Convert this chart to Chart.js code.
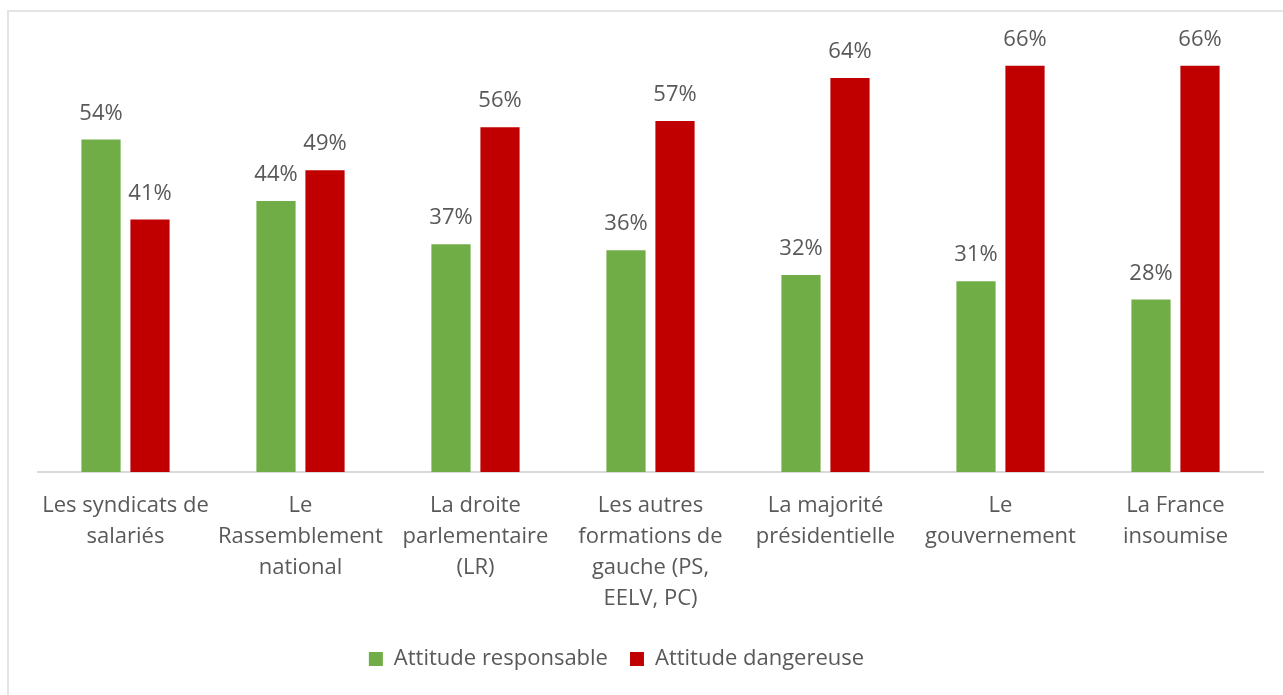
<!DOCTYPE html>
<html>
<head>
<meta charset="utf-8">
<script src="https://cdn.jsdelivr.net/npm/chart.js@4/dist/chart.umd.min.js"></script>
<style>
  html, body { margin: 0; padding: 0; background: #fff; overflow: hidden; }
  #frame { position: absolute; left: 7px; top: 10px; width: 1276px; height: 685px;
           border-left: 2px solid #e4e4e4; border-top: 2px solid #e4e4e4; }
  #chart { position: absolute; left: 0; top: 0; }
</style>
</head>
<body>
<div id="frame"></div>
<canvas id="chart" width="1283" height="695"></canvas>
<script>
// categories (x axis labels, split on lines like the original)
const categories = [
  ["Les syndicats de", "salariés"],
  ["Le", "Rassemblement", "national"],
  ["La droite", "parlementaire", "(LR)"],
  ["Les autres", "formations de", "gauche (PS,", "EELV, PC)"],
  ["La majorité", "présidentielle"],
  ["Le", "gouvernement"],
  ["La France", "insoumise"]
];

// values in %
const responsable = [54, 44, 37, 36, 32, 31, 28];
const dangereuse = [41, 49, 56, 57, 64, 66, 66];

const textColor = "#595959";
const fontFamily = "'Open Sans', Lato, sans-serif";

// draw the % above each bar
const valueLabels = {
  id: "valueLabels",
  afterDatasetsDraw(chart) {
    const ctx = chart.ctx;
    ctx.save();
    ctx.font = "22px " + fontFamily;
    ctx.fillStyle = textColor;
    ctx.textAlign = "center";
    ctx.textBaseline = "alphabetic";
    chart.data.datasets.forEach((ds, i) => {
      chart.getDatasetMeta(i).data.forEach((bar, j) => {
        ctx.fillText(ds.data[j] + "%", bar.x, bar.y - 20);
      });
    });
    ctx.restore();
  }
};

// the legend in the original sits a bit left of centre
const legendShift = {
  id: "legendShift",
  afterLayout(chart) {
    chart.legend.left -= 34;
    chart.legend.right -= 34;
  }
};

new Chart(document.getElementById("chart"), {
  type: "bar",
  data: {
    labels: categories,
    datasets: [
      {
        label: "Attitude responsable",
        data: responsable,
        backgroundColor: "#70ad47",
        categoryPercentage: 0.56,
        barPercentage: 0.8
      },
      {
        label: "Attitude dangereuse",
        data: dangereuse,
        backgroundColor: "#c00000",
        categoryPercentage: 0.56,
        barPercentage: 0.8
      }
    ]
  },
  options: {
    responsive: false,
    animation: false,
    layout: { padding: { left: 38, right: 20, top: 41, bottom: 15 } },
    scales: {
      x: {
        grid: { display: false, drawTicks: false },
        border: { color: "#d9d9d9", width: 2 },
        ticks: {
          color: textColor,
          font: { family: fontFamily, size: 22, lineHeight: 1.41 },
          padding: 18,
          autoSkip: false,
          maxRotation: 0
        },
        afterFit: (scale) => { scale.height = 154; }
      },
      y: {
        display: false,
        min: 0,
        max: 70
      }
    },
    plugins: {
      tooltip: { enabled: false },
      legend: {
        position: "bottom",
        labels: {
          color: textColor,
          font: { family: fontFamily, size: 22 },
          boxWidth: 14,
          boxHeight: 14,
          padding: 22
        }
      }
    }
  },
  plugins: [valueLabels, legendShift]
});
</script>
</body>
</html>
